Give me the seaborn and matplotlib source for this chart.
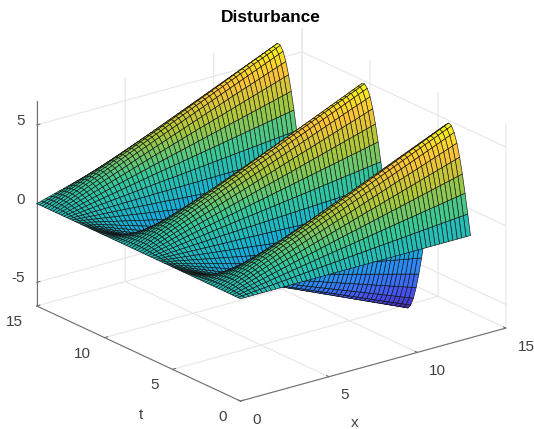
import matplotlib
matplotlib.use("Agg")
import matplotlib.pyplot as plt
from mpl_toolkits.mplot3d import proj3d
import numpy as np
import seaborn as sns

# mesh: x lines every quarter unit, t lines every 0.2
x_values = [0, 0.25, 0.5, 0.75, 1, 1.25, 1.5, 1.75, 2, 2.25, 2.5, 2.75, 3, 3.25, 3.5, 3.75, 4, 4.25, 4.5, 4.75,
            5, 5.25, 5.5, 5.75, 6, 6.25, 6.5, 6.75, 7, 7.25, 7.5, 7.75, 8, 8.25, 8.5, 8.75, 9, 9.25, 9.5, 9.75,
            10, 10.25, 10.5, 10.75, 11, 11.25, 11.5, 11.75, 12, 12.25, 12.5, 12.75, 13]
t_values = [0, 0.2, 0.4, 0.6, 0.8, 1, 1.2, 1.4, 1.6, 1.8, 2, 2.2, 2.4, 2.6, 2.8, 3, 3.2, 3.4, 3.6, 3.8,
            4, 4.2, 4.4, 4.6, 4.8, 5, 5.2, 5.4, 5.6, 5.8, 6, 6.2, 6.4, 6.6, 6.8, 7, 7.2, 7.4, 7.6, 7.8,
            8, 8.2, 8.4, 8.6, 8.8, 9, 9.2, 9.4, 9.6, 9.8, 10, 10.2, 10.4, 10.6, 10.8, 11, 11.2, 11.4, 11.6, 11.8,
            12, 12.2, 12.4, 12.6, 12.8, 13, 13.2, 13.4, 13.6, 13.8, 14, 14.2, 14.4, 14.6, 14.8, 15]
# height along the far end of the sheet (x = 13); t lines run straight from z = 0 at x = 0
end_heights = [0, 1.29, 2.53, 3.67, 4.66, 5.47, 6.06, 6.40, 6.50, 6.33, 5.91, 5.25, 4.39, 3.35, 2.18, 0.92,
               -0.38, -1.66, -2.88, -3.98, -4.92, -5.67, -6.19, -6.46, -6.47, -6.23, -5.74, -5.02, -4.10, -3.02,
               -1.81, -0.54, 0.76, 2.03, 3.21, 4.27, 5.16, 5.84, 6.29, 6.49, 6.43, 6.12, 5.56, 4.77, 3.80, 2.68,
               1.45, 0.16, -1.13, -2.38, -3.54, -4.54, -5.38, -6.00, -6.38, -6.50, -6.36, -5.97, -5.35, -4.50,
               -3.49, -2.32, -1.07, 0.22, 1.51, 2.74, 3.85, 4.82, 5.58, 6.14, 6.44, 6.49, 6.28, 5.82, 5.13, 4.23]
x_ticks = [0, 5, 10, 15]
t_ticks = [0, 5, 10, 15]
z_ticks = [-5, 0, 5]

parula_colors = ["#3e26a8", "#4752f4", "#2d87f7", "#12b1d6", "#37c897", "#abc739", "#fec338", "#f9fb15"]

sns.set_theme(style="white")
plt.rcParams['font.family'] = ['Liberation Sans', 'DejaVu Sans']
text_color = "#404040"

x = np.array(x_values)
t = np.array(t_values)
X, T = np.meshgrid(x, t)
Z = np.outer(np.array(end_heights), x / x[-1])

cmap = sns.blend_palette(parula_colors, as_cmap=True)
norm = plt.Normalize(-6.5, 6.5)

fig = plt.figure(figsize=(5.34, 4.29), dpi=100)
ax = fig.add_axes([-1.5 / 534, -6 / 429, 1, 1], projection='3d')
ax.set_proj_type('ortho')
ax.view_init(elev=21, azim=-127.5)
ax.set_box_aspect((1, 1, 0.655), zoom=1.18)

surf = ax.plot_surface(X, T, Z, facecolors=cmap(norm(Z)), rstride=1, cstride=1, shade=False,
                       edgecolor='#141414', linewidth=0.45, antialiased=True)
surf.set_clip_on(False)

ax.set_xlim(0, 15)
ax.set_ylim(0, 15)
ax.set_zlim(-6.5, 6.5)
ax.set_xticks(x_ticks)
ax.set_yticks(t_ticks)
ax.set_zticks(z_ticks)
ax.set_xticklabels([])
ax.set_yticklabels([])
ax.set_zticklabels([])

for axis in (ax.xaxis, ax.yaxis, ax.zaxis):
    axis.set_pane_color((1, 1, 1, 0))
    axis.pane.set_edgecolor('none')
    axis.line.set_color('#707070')
    axis.line.set_linewidth(0.8)
    axis._axinfo['grid'].update(color='#e6e6e6', linewidth=0.8)
    axis._axinfo['tick'].update(inward_factor=0.0, outward_factor=0.15, linewidth={True: 0.8, False: 0.5})
ax.tick_params(color='#707070')


def box_text(px, py, pz, s, **kw):
    # flat text placed at a point of the 3d box
    sx, sy, _ = proj3d.proj_transform(px, py, pz, ax.get_proj())
    ax.text2D(sx, sy, s, transform=ax.transData, va='center', fontsize=11, color=text_color, **kw)


# tick labels sit just outside the box, as in the original
for v in x_ticks:
    box_text(v, -0.85, -7.35, str(v), ha='left')
for v in t_ticks:
    box_text(-0.79, v, -7.27, str(v), ha='right')
for v in z_ticks:
    box_text(0, 15.9, v - 0.11, str(v), ha='right')
box_text(5.66, -1, -9.26, 'x', ha='center')
box_text(-1, 6.02, -9.51, 't', ha='center')

fig.text(271 / 534, 1 - 17 / 429, 'Disturbance', ha='center', va='center', fontsize=12.4, fontweight='bold', color='black')

fig.savefig('out.png', dpi=100)
